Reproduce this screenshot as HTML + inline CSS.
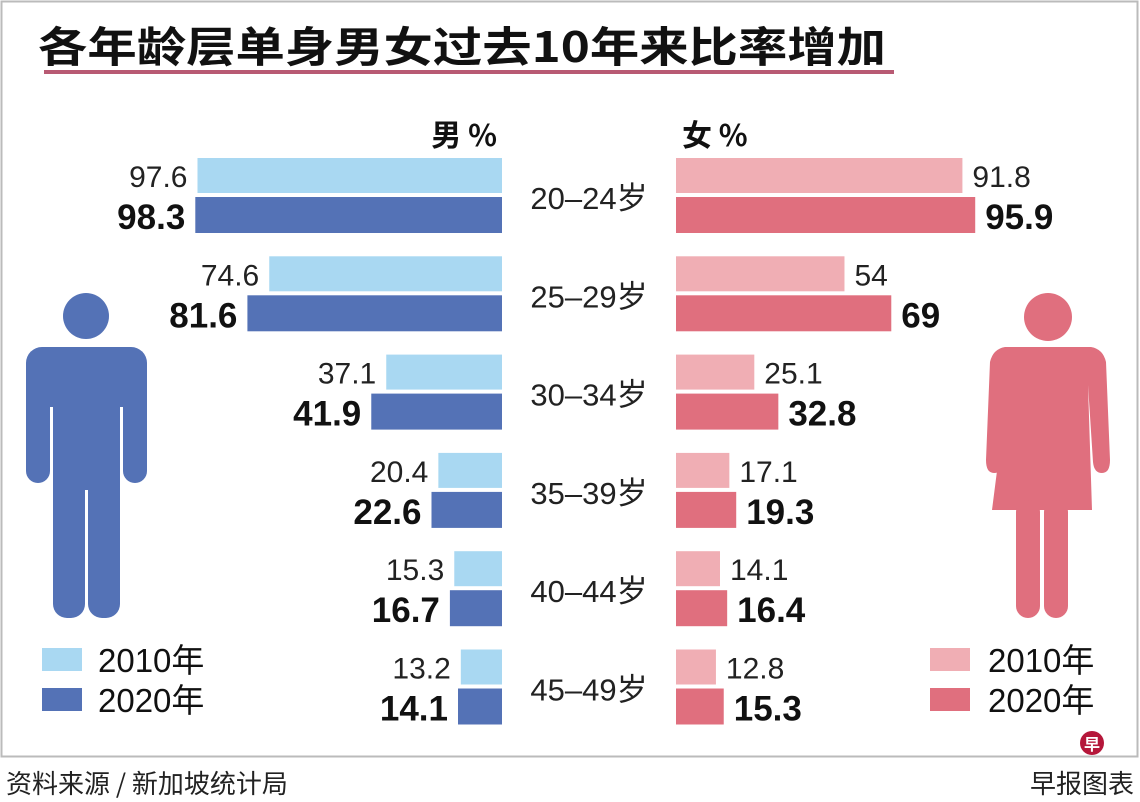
<!DOCTYPE html>
<html><head><meta charset="utf-8">
<style>
body{margin:0;background:#fff;}
svg{display:block;font-family:"Liberation Sans","Noto Sans CJK SC",sans-serif;}
</style></head>
<body>
<svg id="chart" width="1140" height="802" viewBox="0 0 1140 802" xmlns="http://www.w3.org/2000/svg">
<rect x="1.5" y="1.5" width="1136" height="755" fill="none" stroke="#bbb" stroke-width="2"/>
<text x="38" y="62" font-size="42" font-weight="bold" textLength="848" lengthAdjust="spacingAndGlyphs" font-family="'Noto Sans CJK SC',sans-serif" fill="#111">各年龄层单身男女过去10年来比率增加</text>
<rect x="44" y="70" width="850" height="4" fill="#b85a73"/>
<text x="497" y="146" font-size="30" font-weight="bold" text-anchor="end" fill="#111" font-family="'Noto Sans CJK SC',sans-serif">男 %</text>
<text x="682" y="146" font-size="30" font-weight="bold" fill="#111" font-family="'Noto Sans CJK SC',sans-serif">女 %</text>
<g id="bars"></g>
<g fill="#5472b6">
<circle cx="86" cy="316" r="23"/>
<rect x="26" y="347" width="121" height="60" rx="16"/>
<rect x="26" y="360" width="24" height="123" rx="12"/>
<rect x="123" y="360" width="24" height="123" rx="12"/>
<rect x="53" y="360" width="67" height="130"/>
<rect x="53" y="470" width="32" height="148" rx="14"/>
<rect x="88" y="470" width="32" height="148" rx="14"/>
</g>
<g fill="#e06f7e">
<circle cx="1048" cy="317" r="24"/>
<path d="M1005 347 L1091 347 Q1103 349 1106 362 L1110 460 Q1110 473 1102 473 Q1094 473 1093 462 L1088 385 L1092 510 L992 510 L1008 385 L1003 462 Q1002 473 994 473 Q986 473 986 460 L990 362 Q993 349 1005 347 Z"/>
<rect x="1016" y="500" width="24" height="118" rx="12"/>
<rect x="1044" y="500" width="24" height="118" rx="12"/>
</g>
<rect x="42" y="648" width="40" height="23" fill="#a9d8f2"/>
<text x="98" y="672" font-size="33" fill="#111">2010年</text>
<rect x="42" y="688" width="40" height="23" fill="#5472b6"/>
<text x="98" y="712" font-size="33" fill="#111">2020年</text>
<rect x="930" y="648" width="40" height="23" fill="#f0aeb4"/>
<text x="988" y="672" font-size="33" fill="#111">2010年</text>
<rect x="930" y="688" width="40" height="23" fill="#e06f7e"/>
<text x="988" y="712" font-size="33" fill="#111">2020年</text>
<text x="6" y="793" font-size="26" fill="#222" font-family="'Noto Sans CJK SC',sans-serif">资料来源 / 新加坡统计局</text>
<circle cx="1092" cy="743" r="12" fill="#b5173a"/>
<text x="1092" y="750" font-size="16" font-weight="bold" fill="#fff" text-anchor="middle" font-family="'Noto Sans CJK SC',sans-serif">早</text>
<text x="1134" y="793" font-size="26" fill="#222" text-anchor="end" font-family="'Noto Sans CJK SC',sans-serif">早报图表</text>
</svg>
<script>
const categories = ["20–24岁","25–29岁","30–34岁","35–39岁","40–44岁","45–49岁"];
const male2010 = [97.6,74.6,37.1,20.4,15.3,13.2];
const male2020 = [98.3,81.6,41.9,22.6,16.7,14.1];
const female2010 = [91.8,54,25.1,17.1,14.1,12.8];
const female2020 = [95.9,69,32.8,19.3,16.4,15.3];
const NS="http://www.w3.org/2000/svg";
const g=document.getElementById('bars');
const scale=v=>v*3.12;
const rowY=i=>158+i*98.3;
function mk(tag,attrs){const e=document.createElementNS(NS,tag);for(const k in attrs)e.setAttribute(k,attrs[k]);g.appendChild(e);return e;}
categories.forEach((c,i)=>{
  const y=rowY(i);
  let e=mk('rect',{x:502-scale(male2010[i]),y:y,width:scale(male2010[i]),height:35,fill:'#a9d8f2'});
  
  
  e=mk('rect',{x:502-scale(male2020[i]),y:y+39,width:scale(male2020[i]),height:36,fill:'#5472b6'});
  
  
  e=mk('rect',{x:676,y:y,width:scale(female2010[i]),height:35,fill:'#f0aeb4'});
  
  
  e=mk('rect',{x:676,y:y+39,width:scale(female2020[i]),height:36,fill:'#e06f7e'});
  
  
  e=mk('text',{x:502-scale(male2010[i])-10,y:y+29,'font-size':30,'text-anchor':'end',fill:'#222'});
  e.textContent=String(male2010[i]);
  
  
  e=mk('text',{x:502-scale(male2020[i])-10,y:y+71,'font-size':35,'font-weight':'bold','text-anchor':'end',fill:'#111'});
  e.textContent=String(male2020[i]);
  
  
  e=mk('text',{x:676+scale(female2010[i])+10,y:y+29,'font-size':30,fill:'#222'});
  e.textContent=String(female2010[i]);
  
  
  e=mk('text',{x:676+scale(female2020[i])+10,y:y+71,'font-size':35,'font-weight':'bold',fill:'#111'});
  e.textContent=String(female2020[i]);
  
  
  e=mk('text',{x:589,y:y+51,'font-size':31,'text-anchor':'middle',fill:'#222'});
  e.textContent=c;
  
  
});
</script>
</body></html>
